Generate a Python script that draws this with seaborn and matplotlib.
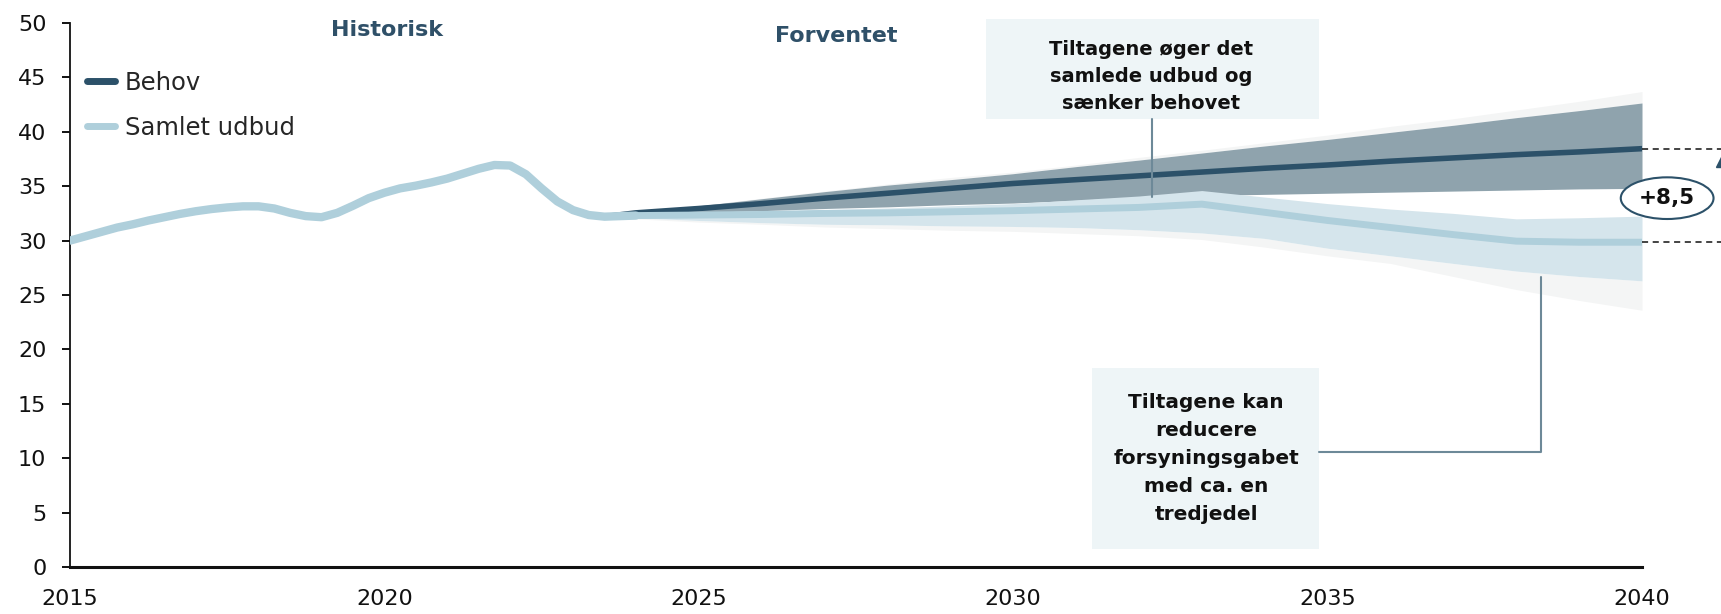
import matplotlib
matplotlib.use("Agg")
import matplotlib.pyplot as plt
from matplotlib.lines import Line2D
from matplotlib.patches import Rectangle
import seaborn as sns
import pandas as pd

### data
hist_years = [2015.0, 2015.25, 2015.5, 2015.75, 2016.0, 2016.25, 2016.5, 2016.75,
              2017.0, 2017.25, 2017.5, 2017.75, 2018.0, 2018.25, 2018.5, 2018.75,
              2019.0, 2019.25, 2019.5, 2019.75, 2020.0, 2020.25, 2020.5, 2020.75,
              2021.0, 2021.25, 2021.5, 2021.75, 2022.0, 2022.25, 2022.5, 2022.75,
              2023.0, 2023.25, 2023.5, 2023.75, 2024.0]
hist_values = [30.0, 30.4, 30.8, 31.2, 31.5, 31.85, 32.15, 32.45,
               32.7, 32.9, 33.05, 33.15, 33.15, 32.95, 32.55, 32.25,
               32.15, 32.55, 33.2, 33.9, 34.4, 34.8, 35.05, 35.35,
               35.7, 36.15, 36.6, 36.95, 36.9, 36.1, 34.8, 33.6,
               32.8, 32.35, 32.2, 32.25, 32.3]

fc_years = [2023.5, 2024, 2025, 2026, 2027, 2028, 2029, 2030, 2031, 2032,
            2033, 2034, 2035, 2036, 2037, 2038, 2039, 2040]
behov = [32.2, 32.55, 32.95, 33.4, 33.9, 34.35, 34.8, 35.25, 35.6, 35.95,
         36.3, 36.65, 36.95, 37.3, 37.6, 37.9, 38.15, 38.45]
udbud = [32.2, 32.3, 32.35, 32.4, 32.5, 32.55, 32.65, 32.75, 32.9, 33.05,
         33.35, 32.6, 31.85, 31.2, 30.55, 29.95, 29.85, 29.85]

band_years = [2023.5, 2024, 2025, 2026, 2027, 2028, 2029, 2030, 2031, 2032,
              2033, 2034, 2035, 2036, 2037, 2038, 2039, 2040]
behov_hi = [32.2, 32.6, 33.2, 33.85, 34.5, 35.1, 35.6, 36.15, 36.8, 37.4,
            38.05, 38.7, 39.3, 39.95, 40.6, 41.3, 41.95, 42.65]
behov_lo = [32.2, 32.45, 32.6, 32.75, 32.95, 33.1, 33.3, 33.45, 33.7, 34.0,
            34.15, 34.25, 34.35, 34.45, 34.55, 34.65, 34.75, 34.8]
udbud_hi = [32.2, 32.35, 32.5, 32.65, 32.85, 33.0, 33.2, 33.4, 33.75, 34.1,
            34.6, 34.0, 33.4, 32.9, 32.5, 32.0, 32.1, 32.25]
udbud_lo = [32.2, 32.1, 31.85, 31.65, 31.5, 31.45, 31.35, 31.3, 31.2, 31.0,
            30.7, 30.2, 29.3, 28.6, 27.9, 27.2, 26.7, 26.3]
outer_hi = [32.2, 32.6, 33.2, 33.9, 34.55, 35.2, 35.8, 36.3, 36.95, 37.65,
            38.3, 39.0, 39.7, 40.5, 41.2, 42.0, 42.8, 43.7]
outer_lo = [32.2, 32.0, 31.7, 31.5, 31.25, 31.1, 30.95, 30.85, 30.65, 30.45,
            30.1, 29.4, 28.6, 27.9, 26.7, 25.5, 24.5, 23.6]

x_ticks = [2015, 2020, 2025, 2030, 2035, 2040]
y_ticks = [0, 5, 10, 15, 20, 25, 30, 35, 40, 45, 50]
gap_label = "+8,5"

### colours
c_behov = "#2c5169"
c_udbud = "#afcfdb"
c_band_dark = "#8fa3ad"
c_band_light = "#d5e5ec"
c_band_outer = "#f4f5f5"
c_box = "#eef5f7"
c_title = "#2f5068"
c_conn = "#6d8998"

sns.set_theme(style="ticks")
plt.rcParams["font.family"] = ["DejaVu Sans"]

fig = plt.figure(figsize=(17.21, 6.14), dpi=100)
ax = fig.add_axes([70 / 1721, 1 - 567 / 614, 1572 / 1721, 544 / 614])

hist_df = pd.DataFrame({"year": hist_years, "value": hist_values})
fc_df = pd.DataFrame({"year": fc_years, "behov": behov, "udbud": udbud})

# uncertainty bands
ax.fill_between(band_years, behov_hi, outer_hi, color=c_band_outer, lw=0, zorder=1)
ax.fill_between(band_years, outer_lo, udbud_lo, color=c_band_outer, lw=0, zorder=1)
ax.fill_between(band_years, behov_lo, behov_hi, color=c_band_dark, lw=0, zorder=2)
ax.fill_between(band_years, udbud_lo, udbud_hi, color=c_band_light, lw=0, zorder=3)

# lines
sns.lineplot(data=fc_df, x="year", y="behov", ax=ax, color=c_behov, lw=4, zorder=4)
sns.lineplot(data=fc_df, x="year", y="udbud", ax=ax, color=c_udbud, lw=5, zorder=5)
sns.lineplot(data=hist_df, x="year", y="value", ax=ax, color=c_udbud, lw=6, zorder=5)

ax.set_xlim(2015, 2040)
ax.set_ylim(0, 50)
ax.set_xticks(x_ticks)
ax.set_yticks(y_ticks)
ax.set_xlabel("")
ax.set_ylabel("")
ax.tick_params(axis="x", length=0, pad=16, labelsize=16, colors="#111111")
ax.tick_params(axis="y", length=6, width=1.4, pad=11, labelsize=16, colors="#111111")
for s in ["top", "right"]:
    ax.spines[s].set_visible(False)
ax.spines["left"].set_linewidth(1.3)
ax.spines["bottom"].set_linewidth(2.2)
ax.spines["left"].set_color("#111111")
ax.spines["bottom"].set_color("#111111")

# legend
handles = [Line2D([], [], color=c_behov, lw=5), Line2D([], [], color=c_udbud, lw=5)]
ax.legend(handles, ["Behov", "Samlet udbud"], loc="upper left",
          bbox_to_anchor=(0.011, 0.912), frameon=False, fontsize=17.5,
          handlelength=1.15, handletextpad=0.4, labelspacing=0.85,
          borderpad=0, borderaxespad=0)

# period titles
ax.text(2020.04, 49.4, "Historisk", ha="center", va="center", fontsize=16,
        fontweight="bold", color=c_title)
ax.text(2027.18, 48.85, "Forventet", ha="center", va="center", fontsize=16,
        fontweight="bold", color=c_title)

# annotation boxes
ax.add_patch(Rectangle((2029.56, 41.2), 5.31, 9.2, facecolor=c_box, lw=0,
                       clip_on=False, zorder=6))
ax.text(2032.2, 45.1, "Tiltagene øger det\nsamlede udbud og\nsænker behovet",
        ha="center", va="center", fontsize=14, fontweight="bold",
        color="#111111", linespacing=1.55, zorder=7)
ax.plot([2032.2, 2032.2], [41.2, 34.0], color=c_conn, lw=1.5, zorder=6)

ax.add_patch(Rectangle((2031.26, 1.65), 3.61, 16.65, facecolor=c_box, lw=0,
                       zorder=6))
ax.text(2033.07, 10.0, "Tiltagene kan\nreducere\nforsyningsgabet\nmed ca. en\ntredjedel",
        ha="center", va="center", fontsize=14.5, fontweight="bold",
        color="#111111", linespacing=1.6, zorder=7)
ax.plot([2034.87, 2038.4, 2038.4], [10.6, 10.6, 26.7], color=c_conn, lw=1.5, zorder=6)

# gap markers at the right edge
ax.plot([2040, 2041.6], [behov[-1], behov[-1]], color="#111111", lw=1.1,
        ls=(0, (4, 3)), clip_on=False, zorder=6)
ax.plot([2040, 2041.6], [udbud[-1], udbud[-1]], color="#111111", lw=1.1,
        ls=(0, (4, 3)), clip_on=False, zorder=6)
ax.plot([2041.32], [37.55], marker="^", ms=13, color=c_behov, clip_on=False, zorder=6)
ax.text(2040.4, 33.9, gap_label, ha="center", va="center", fontsize=15.5,
        fontweight="bold", color="#111111", zorder=8,
        bbox=dict(boxstyle="ellipse,pad=0.22", fc="white", ec=c_behov, lw=1.5))

fig.savefig("out.png", dpi=100)
